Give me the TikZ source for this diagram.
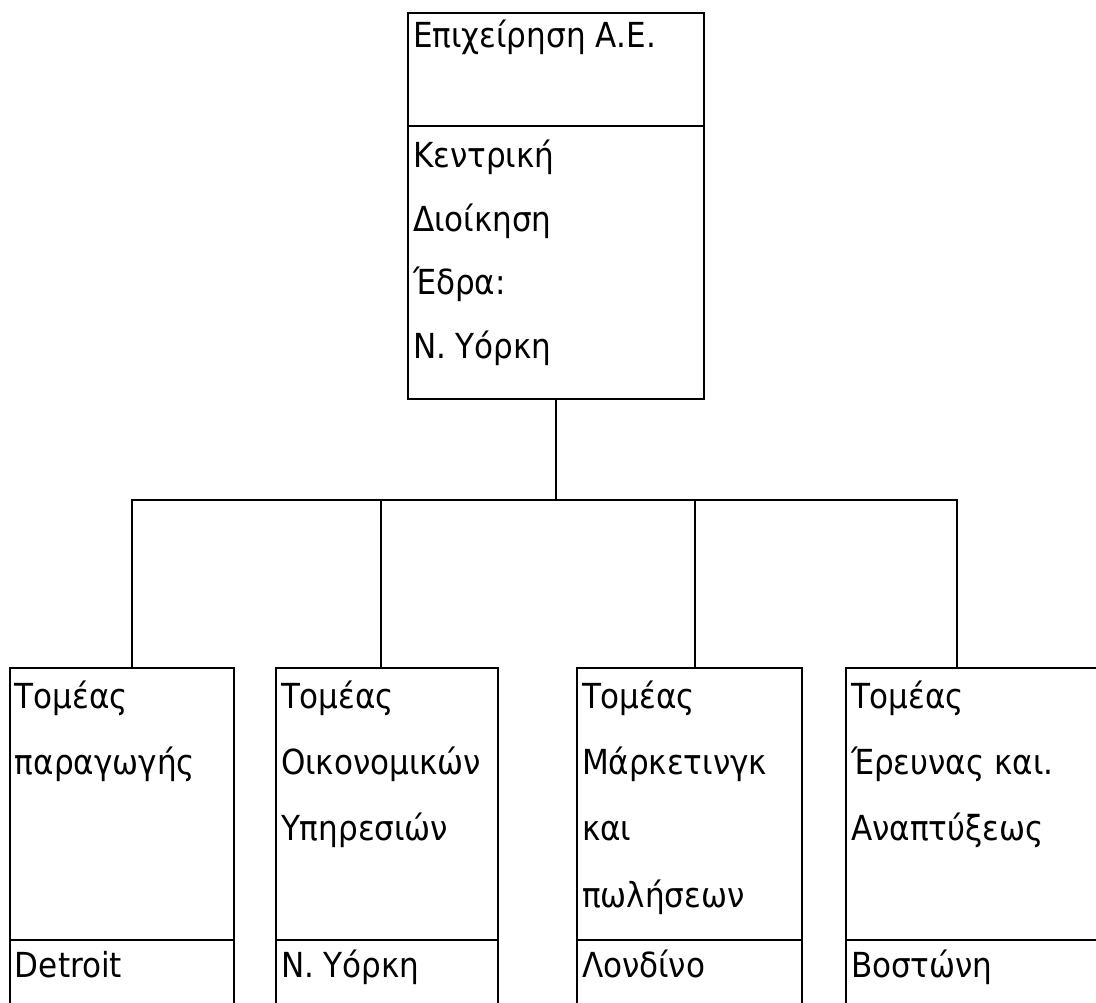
\documentclass[tikz,border=0pt]{standalone}
\usepackage{fontspec}
\setmainfont{DejaVu Sans Condensed}
\usetikzlibrary{positioning,calc}

\begin{document}
\begin{tikzpicture}[x=1pt,y=-1pt,line width=2.7pt,
                    every node/.style={inner sep=0pt,outer sep=0pt}]
  \tikzstyle{unit}=[draw,rectangle,anchor=north west]
  \tikzstyle{txt}=[anchor=base west,font=\fontsize{34.5}{40}\selectfont]

  \useasboundingbox (0,0) rectangle (1096,1003);
  \clip (0,0) rectangle (1096,1003);

  % head office
  \node[unit,minimum width=296,minimum height=113] (firm) at (408,13) {};
  \node[unit,minimum width=296,minimum height=273] (hq)   at (408,126) {};

  % divisions
  \node[unit,minimum width=224,minimum height=272] (prod)     at (10,668) {};
  \node[unit,minimum width=224,minimum height=100] (prodcity) at (10,940) {};
  \node[unit,minimum width=222,minimum height=272] (fin)      at (276,668) {};
  \node[unit,minimum width=222,minimum height=100] (fincity)  at (276,940) {};
  \node[unit,minimum width=225,minimum height=272] (mkt)      at (577,668) {};
  \node[unit,minimum width=225,minimum height=100] (mktcity)  at (577,940) {};
  \node[unit,minimum width=280,minimum height=272] (rnd)      at (846,668) {};
  \node[unit,minimum width=280,minimum height=100] (rndcity)  at (846,940) {};

  % texts
  \node[txt] (firmname) at ([shift={(5,35)}]firm.north west) {Επιχείρηση Α.Ε.};
  \node[txt] (hqa) at ([shift={(5,42)}]hq.north west)    {Κεντρική};
  \node[txt] (hqb) at ([shift={(5,105.5)}]hq.north west) {Διοίκηση};
  \node[txt] (hqc) at ([shift={(5,169)}]hq.north west)   {Έδρα:};
  \node[txt] (hqd) at ([shift={(5,232.5)}]hq.north west) {Ν. Υόρκη};

  \node[txt] (proda) at ([shift={(5,40)}]prod.north west)  {Τομέας};
  \node[txt] (prodb) at ([shift={(5,106)}]prod.north west) {παραγωγής};
  \node[txt] (fina) at ([shift={(5,40)}]fin.north west)   {Τομέας};
  \node[txt] (finb) at ([shift={(5,106)}]fin.north west)  {Οικονομικών};
  \node[txt] (finc) at ([shift={(5,172)}]fin.north west)  {Υπηρεσιών};
  \node[txt] (mkta) at ([shift={(5,40)}]mkt.north west)   {Τομέας};
  \node[txt] (mktb) at ([shift={(5,106)}]mkt.north west)  {Μάρκετινγκ};
  \node[txt] (mktc) at ([shift={(5,172)}]mkt.north west)  {και};
  \node[txt] (mktd) at ([shift={(5,239)}]mkt.north west)  {πωλήσεων};
  \node[txt] (rnda) at ([shift={(5,40)}]rnd.north west)   {Τομέας};
  \node[txt] (rndb) at ([shift={(5,106)}]rnd.north west)  {Έρευνας και.};
  \node[txt] (rndc) at ([shift={(5,172)}]rnd.north west)  {Αναπτύξεως};

  \node[txt] (prodtown) at ([shift={(5,37)}]prodcity.north west) {Detroit};
  \node[txt] (fintown)  at ([shift={(5,37)}]fincity.north west)  {Ν. Υόρκη};
  \node[txt] (mkttown)  at ([shift={(5,37)}]mktcity.north west)  {Λονδίνο};
  \node[txt] (rndtown)  at ([shift={(5,37)}]rndcity.north west)  {Βοστώνη};

  % connectors
  \coordinate (bus)  at (556,500);
  \coordinate (tap1) at (132,500);
  \coordinate (tap2) at (381,500);
  \coordinate (tap3) at (695,500);
  \coordinate (tap4) at (957,500);

  \draw (hq.south) -- (bus);
  \draw (tap1 |- prod.north) -- (tap1) -- (tap4) -- (tap4 |- rnd.north);
  \draw (tap2) -- (tap2 |- fin.north);
  \draw (tap3) -- (tap3 |- mkt.north);

\end{tikzpicture}
\end{document}
